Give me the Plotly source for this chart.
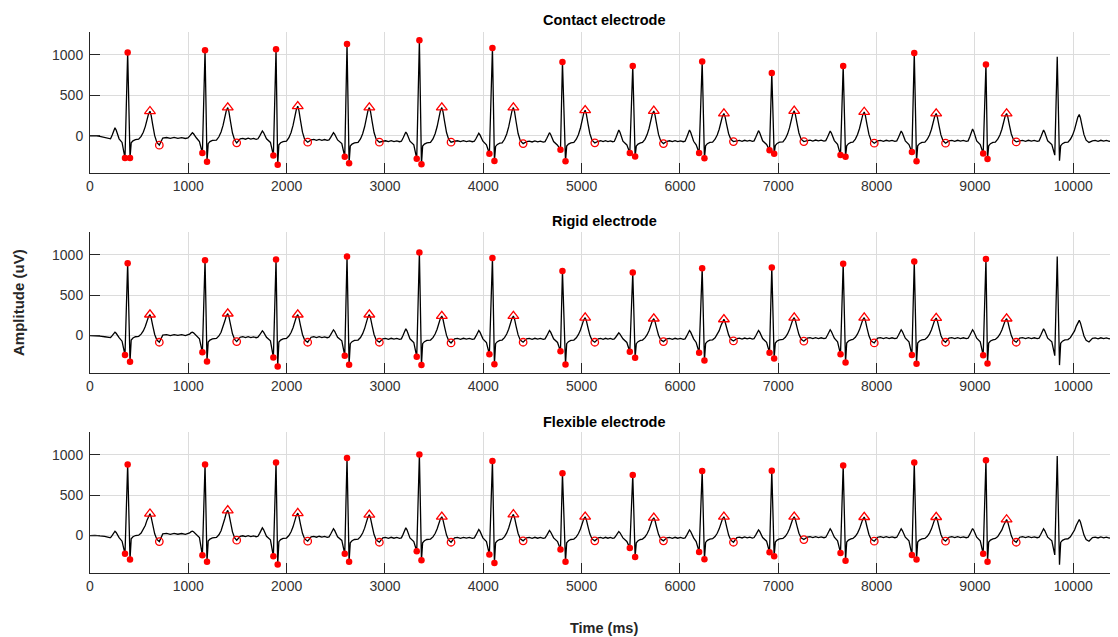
import plotly.graph_objects as go

# ---------------- data ----------------
panel_titles = ["Contact electrode", "Rigid electrode", "Flexible electrode"]
x_ticks = [0, 1000, 2000, 3000, 4000, 5000, 6000, 7000, 8000, 9000, 10000]
y_ticks = [0, 500, 1000]
n_detected = 13  # last beat in the record is not annotated

# fiducial times (ms), shared by the three recordings
p_time = [254, 1041, 1753, 2476, 3212, 3954, 4673, 5378, 6097, 6799, 7528, 8250, 8976, 9698, 10430]
q_time = [356, 1143, 1865, 2591, 3323, 4062, 4785, 5490, 6195, 6911, 7633, 8359, 9084, 9812]
r_time = [383, 1170, 1892, 2614, 3350, 4093, 4805, 5520, 6226, 6934, 7660, 8383, 9112, 9837]
s_time = [407, 1190, 1909, 2635, 3371, 4113, 4836, 5544, 6249, 6958, 7684, 8406, 9128, 9860]
t_time = [610, 1401, 2113, 2841, 3578, 4306, 5036, 5734, 6447, 7162, 7874, 8606, 9322, 10061]
tend_time = [705, 1492, 2214, 2943, 3672, 4405, 5134, 5832, 6544, 7260, 7976, 8701, 9420, 10160]
lead_time = [0, 50, 100, 150, 200]

# Contact electrode amplitudes (uV)
contact_p = [101, 40, 61, 40, 49, 33, 40, 73, 73, 65, 61, 61, 85, 73, 140]
contact_q = [-272, -211, -240, -256, -280, -220, -171, -211, -211, -175, -236, -199, -215, -236]
contact_r = [1028, 1057, 1069, 1134, 1179, 1085, 911, 862, 918, 777, 862, 1024, 882, 976]
contact_s = [-272, -317, -354, -337, -350, -309, -313, -252, -276, -220, -256, -313, -284, -305]
contact_t = [305, 350, 366, 350, 350, 350, 317, 309, 277, 309, 296, 277, 277, 265]
contact_tend = [-113, -85, -77, -77, -77, -94, -85, -94, -69, -69, -89, -89, -73, -80]
contact_tp = [-25, -35, -49, -65, -65, -69, -65, -65, -60, -57, -60, -60, -60, -60]
contact_lead = [0, 3, -5, -20, -35]

# Rigid electrode amplitudes (uV)
rigid_p = [41, 41, 58, 71, 83, 62, 62, 33, 62, 62, 71, 71, 71, 83, 125]
rigid_q = [-241, -208, -271, -250, -262, -233, -196, -200, -212, -212, -233, -241, -245, -250]
rigid_r = [896, 933, 941, 979, 1029, 958, 800, 779, 833, 841, 887, 916, 946, 979]
rigid_s = [-325, -321, -383, -362, -366, -354, -358, -275, -308, -283, -333, -350, -346, -366]
rigid_t = [259, 271, 259, 259, 241, 241, 221, 209, 200, 221, 221, 217, 209, 188]
rigid_tend = [-83, -75, -83, -83, -92, -83, -83, -75, -67, -70, -92, -83, -83, -80]
rigid_tp = [5, -21, -21, -41, -41, -41, -41, -41, -38, -33, -33, -33, -33, -35]
rigid_lead = [0, 0, -8, -15, -25]

# Flexible electrode amplitudes (uV)
flex_p = [53, 53, 95, 83, 95, 75, 62, 50, 70, 70, 83, 83, 87, 83, 137]
flex_q = [-227, -245, -257, -227, -195, -236, -174, -153, -203, -207, -215, -240, -227, -240]
flex_r = [878, 878, 903, 960, 1002, 923, 770, 749, 799, 803, 866, 903, 932, 985]
flex_s = [-298, -323, -360, -323, -307, -339, -323, -265, -294, -257, -311, -298, -323, -360]
flex_t = [270, 311, 277, 257, 232, 261, 232, 220, 232, 232, 228, 228, 199, 199]
flex_tend = [-75, -58, -70, -83, -83, -66, -66, -66, -83, -50, -70, -70, -83, -70]
flex_tp = [20, -9, -16, -29, -29, -29, -29, -29, -25, -21, -21, -21, -21, -25]
flex_lead = [0, 3, -5, -10, -25]

# beat shape templates (offsets in ms, shape fractions)
p_off = [-45, -28, -12, 0, 12, 26, 42]
p_frac = [0, 0.35, 0.85, 1, 0.8, 0.3, 0]
st_off = [12, 30, 55]
st_lvl = [-60, -35, -20]
t_base = -15
t_up_off = [-115, -90, -68, -48, -30, -15, 0]
t_up_frac = [0, 0.1, 0.25, 0.45, 0.7, 0.9, 1]
t_dn_off = [12, 28, 48, 70]
t_dn_frac = [0.88, 0.6, 0.28, 0.08]
tp_frac = [0, 0.15, 0.3, 0.45, 0.6, 0.75, 0.9, 1.0]
tp_dev = [0, 6, -5, 7, -4, 5, -6, 0]


def build_trace(p_a, q_a, r_a, s_a, t_a, te_a, tp_b, lead_a):
    xs, ys = list(lead_time), list(lead_a)

    def p_wave(k, base):
        for off, fr in zip(p_off, p_frac):
            xs.append(p_time[k] + off)
            ys.append(base + fr * (p_a[k] - base))

    def tp_segment(k_prev, k_next, base):
        start = tend_time[k_prev] + 35
        end = p_time[k_next] + p_off[0]
        for fr, dv in zip(tp_frac, tp_dev):
            xs.append(start + fr * (end - start))
            ys.append(base + dv)

    for i in range(len(r_time)):
        base_prev = lead_a[-1] if i == 0 else tp_b[i - 1]
        if i > 0:
            tp_segment(i - 1, i, base_prev)
        p_wave(i, base_prev)
        xs.append(q_time[i] - 30)
        ys.append(base_prev - 45)
        xs += [q_time[i], r_time[i], s_time[i]]
        ys += [q_a[i], r_a[i], s_a[i]]
        b = tp_b[i]
        for off, lv in zip(st_off, st_lvl):
            xs.append(s_time[i] + off)
            ys.append(b + lv)
        t0 = b + t_base
        for off, fr in zip(t_up_off, t_up_frac):
            xs.append(t_time[i] + off)
            ys.append(t0 + fr * (t_a[i] - t0))
        for off, fr in zip(t_dn_off, t_dn_frac):
            xs.append(t_time[i] + off)
            ys.append(te_a[i] + fr * (t_a[i] - te_a[i]))
        xs.append(tend_time[i])
        ys.append(te_a[i])
    last = len(r_time) - 1
    tp_segment(last, last + 1, tp_b[last])
    p_wave(last + 1, tp_b[last])
    return xs, ys


panels = [
    (contact_p, contact_q, contact_r, contact_s, contact_t, contact_tend, contact_tp, contact_lead),
    (rigid_p, rigid_q, rigid_r, rigid_s, rigid_t, rigid_tend, rigid_tp, rigid_lead),
    (flex_p, flex_q, flex_r, flex_s, flex_t, flex_tend, flex_tp, flex_lead),
]

# page is drawn with an 8px body margin: work in page pixels, convert to figure pixels
OFF = 8
W, H = 1118 - OFF, 637 - OFF
ML = 90 - OFF
domains_px = [(31.7, 173.3), (231.7, 372.7), (431.7, 572.7)]
title_px = [20, 221, 422]
RED = "#ff0000"
FONT = "Liberation Sans, Arial, sans-serif"


def fy(px):
    return 1 - (px - OFF) / H


def fx(px):
    return (px - OFF - ML) / (W - ML)


fig = go.Figure()
for k, (pa, qa, ra, sa, ta, tea, tpb, la) in enumerate(panels):
    xa = "x" if k == 0 else f"x{k+1}"
    ya = "y" if k == 0 else f"y{k+1}"
    xs, ys = build_trace(pa, qa, ra, sa, ta, tea, tpb, la)
    fig.add_trace(go.Scatter(x=xs, y=ys, mode="lines", line=dict(color="black", width=1.3),
                             xaxis=xa, yaxis=ya, showlegend=False, hoverinfo="skip"))
    nd = n_detected
    fig.add_trace(go.Scatter(x=q_time[:nd] + r_time[:nd] + s_time[:nd],
                             y=qa[:nd] + ra[:nd] + sa[:nd], mode="markers",
                             marker=dict(color=RED, size=6.5, symbol="circle"),
                             xaxis=xa, yaxis=ya, showlegend=False))
    fig.add_trace(go.Scatter(x=t_time[:nd], y=ta[:nd], mode="markers",
                             marker=dict(color=RED, size=9.5, symbol="triangle-up-open",
                                         line=dict(width=1.3, color=RED)),
                             xaxis=xa, yaxis=ya, showlegend=False))
    fig.add_trace(go.Scatter(x=tend_time[:nd], y=tea[:nd], mode="markers",
                             marker=dict(color=RED, size=7.5, symbol="circle-open",
                                         line=dict(width=1.3, color=RED)),
                             xaxis=xa, yaxis=ya, showlegend=False))

axis_common = dict(showline=True, linecolor="#262626", linewidth=1, ticks="inside",
                   ticklen=10, tickcolor="#262626", showgrid=True, gridcolor="#dcdcdc",
                   gridwidth=1, zeroline=False, mirror=False,
                   tickfont=dict(family=FONT, size=14, color="#333333"))

layout = dict(width=W, height=H, margin=dict(l=ML, r=0, t=0, b=0),
              paper_bgcolor="white", plot_bgcolor="white", annotations=[])
for k in range(3):
    top, bot = domains_px[k]
    xkey = "xaxis" if k == 0 else f"xaxis{k+1}"
    ykey = "yaxis" if k == 0 else f"yaxis{k+1}"
    layout[xkey] = dict(axis_common, domain=[0, 1], range=[0, 10455], tickvals=x_ticks,
                        ticktext=[str(v) for v in x_ticks],
                        anchor="y" if k == 0 else f"y{k+1}")
    layout[ykey] = dict(axis_common, domain=[fy(bot), fy(top)], range=[-460, 1285],
                        tickvals=y_ticks, ticktext=[str(v) for v in y_ticks], ticklabelstandoff=3,
                        anchor="x" if k == 0 else f"x{k+1}")
    layout["annotations"].append(dict(text=f"<b>{panel_titles[k]}</b>", xref="paper", yref="paper",
                                      x=fx(604), y=fy(title_px[k]), xanchor="center", yanchor="middle",
                                      showarrow=False, font=dict(family=FONT, size=14.5, color="black")))

layout["annotations"].append(dict(text="<b>Time (ms)</b>", xref="paper", yref="paper",
                                  x=fx(604), y=fy(628), xanchor="center", yanchor="middle", showarrow=False,
                                  font=dict(family=FONT, size=14.5, color="#262626")))
layout["annotations"].append(dict(text="<b>Amplitude (uV)</b>", xref="paper", yref="paper",
                                  x=fx(18), y=fy(303), xanchor="center", yanchor="middle",
                                  textangle=-90, showarrow=False,
                                  font=dict(family=FONT, size=15, color="#262626")))

fig.update_layout(**layout)
fig.write_html("out.html")
